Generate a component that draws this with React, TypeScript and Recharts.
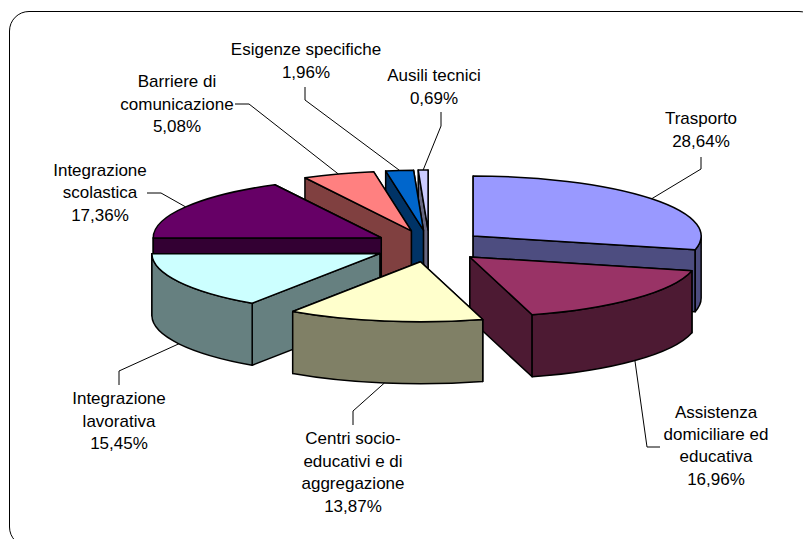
import { Pie, PieChart } from "recharts";

const categories = [
  "Trasporto",
  "Assistenza domiciliare ed educativa",
  "Centri socio-educativi e di aggregazione",
  "Integrazione lavorativa",
  "Integrazione scolastica",
  "Barriere di comunicazione",
  "Esigenze specifiche",
  "Ausili tecnici",
];
const values = [28.64, 16.96, 13.87, 15.45, 17.36, 5.08, 1.96, 0.69];
const topColors = ["#9999FF", "#993366", "#FFFFCC", "#CCFFFF", "#660066", "#FF8080", "#0066CC", "#CCCCFF"];
const sideColors = ["#4D4D80", "#4D1A33", "#808066", "#668080", "#330033", "#804040", "#003366", "#666680"];

const data = categories.map((name, i) => ({ name, value: values[i], fill: topColors[i], side: sideColors[i] }));
// painted back to front: right half clockwise, then left half counter-clockwise so the front slice lands on top
const reversedData = [...data].reverse();

const WIDTH = 803;
const HEIGHT = 539;
const CX = 429.3;
const CY = 246;
const RX = 228;
const RY = 60;
const DEPTH = 62;
const EXPLODE_X = 56;
const EXPLODE_Y = 16;
const FONT_SIZE = 17;

// label text lines, their centre and baselines, and the leader's fixed points
const labelLayout: Record<string, { lines: string[]; x: number; y: number[]; leader: number[][] }> = {
  Trasporto: { lines: ["Trasporto"], x: 701, y: [124, 147], leader: [[701, 157], [701, 169]] },
  "Assistenza domiciliare ed educativa": {
    lines: ["Assistenza", "domiciliare ed", "educativa"],
    x: 716,
    y: [418, 440, 462, 485],
    leader: [[660, 447], [647, 447]],
  },
  "Centri socio-educativi e di aggregazione": {
    lines: ["Centri socio-", "educativi e di", "aggregazione"],
    x: 353,
    y: [444, 467, 489, 512],
    leader: [[353, 425], [353, 411]],
  },
  "Integrazione lavorativa": {
    lines: ["Integrazione", "lavorativa"],
    x: 119,
    y: [404, 427, 449],
    leader: [[119, 385], [119, 371]],
  },
  "Integrazione scolastica": {
    lines: ["Integrazione", "scolastica"],
    x: 100,
    y: [176, 198, 221],
    leader: [[147, 193], [161, 193]],
  },
  "Barriere di comunicazione": {
    lines: ["Barriere di", "comunicazione"],
    x: 177,
    y: [87, 110, 132],
    leader: [[235, 104], [249, 104]],
  },
  "Esigenze specifiche": {
    lines: ["Esigenze specifiche"],
    x: 306,
    y: [55, 78],
    leader: [[305, 87], [305, 100]],
  },
  "Ausili tecnici": { lines: ["Ausili tecnici"], x: 434, y: [81, 104], leader: [[441, 112], [441, 126]] },
};

const rad = (deg: number) => (deg * Math.PI) / 180;

// clockwise-from-top range of a recharts sector
const clockRange = (startAngle: number, endAngle: number) => {
  let lo = Math.min(90 - startAngle, 90 - endAngle);
  let hi = Math.max(90 - startAngle, 90 - endAngle);
  if (lo < 0) {
    lo += 360;
    hi += 360;
  }
  return [lo, hi];
};

const apexOf = (cx: number, cy: number, mid: number) => [
  cx + EXPLODE_X * Math.sin(rad(mid)),
  cy - EXPLODE_Y * Math.cos(rad(mid)),
];

const Slice3D = (props: any, rightHalf: boolean) => {
  const { cx, cy, outerRadius, startAngle, endAngle, fill, payload } = props;
  const [lo, hi] = clockRange(startAngle, endAngle);
  const mid = (lo + hi) / 2;
  if (mid < 180 !== rightHalf) return <g />;
  const [ax, ay] = apexOf(cx, cy, mid);
  const ry = (outerRadius * RY) / RX;
  const pt = (t: number) => [ax + outerRadius * Math.sin(rad(t)), ay - ry * Math.cos(rad(t))];
  const side = payload?.side ?? props.side;
  const common = { stroke: "#000", strokeWidth: 1.5, strokeLinejoin: "round" as const };

  const wall = (t: number) => {
    const [x, y] = pt(t);
    return `M${ax},${ay} L${x},${y} L${x},${y + DEPTH} L${ax},${ay + DEPTH} Z`;
  };
  const walls = [lo, hi].sort((a, b) => pt(a)[1] - pt(b)[1]);

  const [x0, y0] = pt(lo);
  const [x1, y1] = pt(hi);
  const from = Math.max(lo, 90);
  const to = Math.min(hi, 270);
  let rim = null;
  if (to > from) {
    const [rx0, ry0] = pt(from);
    const [rx1, ry1] = pt(to);
    rim =
      `M${rx0},${ry0} A${outerRadius},${ry} 0 0 1 ${rx1},${ry1} L${rx1},${ry1 + DEPTH} ` +
      `A${outerRadius},${ry} 0 0 0 ${rx0},${ry0 + DEPTH} Z`;
  }

  return (
    <g>
      {walls.map((t) => (
        <path key={t} d={wall(t)} fill={side} {...common} />
      ))}
      {rim && <path d={rim} fill={side} {...common} />}
      <path d={`M${ax},${ay} L${x0},${y0} A${outerRadius},${ry} 0 0 1 ${x1},${y1} Z`} fill={fill} {...common} />
    </g>
  );
};

const SliceLabel = (props: any, rightHalf: boolean) => {
  const { cx, cy, outerRadius, startAngle, endAngle, name, value } = props;
  const [lo, hi] = clockRange(startAngle, endAngle);
  const mid = (lo + hi) / 2;
  if (mid < 180 !== rightHalf) return <g />;
  const layout = labelLayout[name];
  const [ax, ay] = apexOf(cx, cy, mid);
  const ry = (outerRadius * RY) / RX;
  const rimX = ax + outerRadius * Math.sin(rad(mid));
  let rimY = ay - ry * Math.cos(rad(mid));
  if (mid > 90 && mid < 270) rimY += DEPTH;
  const points = [...layout.leader, [rimX, rimY]].map((p) => p.join(",")).join(" ");
  const text = [...layout.lines, `${value.toFixed(2).replace(".", ",")}%`];
  return (
    <g>
      <polyline points={points} fill="none" stroke="#000" strokeWidth={1} />
      {text.map((line, i) => (
        <text
          key={i}
          x={layout.x}
          y={layout.y[i]}
          textAnchor="middle"
          fontFamily="'Liberation Sans', Arial, sans-serif"
          fontSize={FONT_SIZE}
          fill="#000"
        >
          {line}
        </text>
      ))}
    </g>
  );
};

const App = () => {
  return (
    <div
      style={{
        position: "absolute",
        left: 0,
        top: 0,
        width: WIDTH,
        height: HEIGHT,
        overflow: "hidden",
        background: "#fff",
      }}
    >
      <div
        style={{
          position: "absolute",
          left: 9,
          top: 11,
          width: 808,
          height: 534,
          border: "1.5px solid #000",
          borderRadius: 20,
        }}
      />
      <div style={{ position: "absolute", left: 0, top: 0 }}>
        <PieChart width={WIDTH} height={HEIGHT} margin={{ top: 0, right: 0, bottom: 0, left: 0 }}>
          <Pie
            data={data}
            dataKey="value"
            nameKey="name"
            cx={CX}
            cy={CY}
            innerRadius={0}
            outerRadius={RX}
            startAngle={90}
            endAngle={-270}
            isAnimationActive={false}
            shape={(p: any) => Slice3D(p, true)}
            label={(p: any) => SliceLabel(p, true)}
            labelLine={false}
          />
          <Pie
            data={reversedData}
            dataKey="value"
            nameKey="name"
            cx={CX}
            cy={CY}
            innerRadius={0}
            outerRadius={RX}
            startAngle={90}
            endAngle={450}
            isAnimationActive={false}
            shape={(p: any) => Slice3D(p, false)}
            label={(p: any) => SliceLabel(p, false)}
            labelLine={false}
          />
        </PieChart>
      </div>
    </div>
  );
};

export default App;
